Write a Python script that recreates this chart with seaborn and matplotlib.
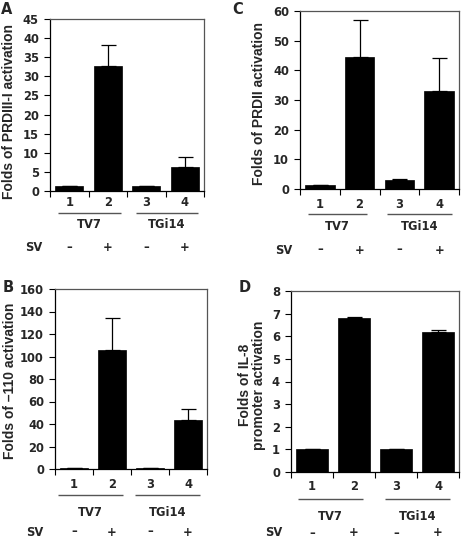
import numpy as np
import pandas as pd
import matplotlib
matplotlib.use("Agg")
import matplotlib.pyplot as plt
import matplotlib.transforms as mtrans
import seaborn as sns

sns.set_theme(style="white")
plt.rcParams['font.family'] = ['DejaVu Sans']
plt.rcParams['font.weight'] = 'bold'

lanes = ["1", "2", "3", "4"]
groups = ["TV7", "TGi14"]
sv_signs = ["\u2013", "+", "\u2013", "+"]

a_vals = [1.2, 32.8, 1.2, 6.3]
a_err = [0.0, 5.5, 0.0, 2.7]
c_vals = [1.2, 44.6, 3.0, 33.1]
c_err = [0.0, 12.2, 0.3, 11.0]
b_vals = [1.0, 105.5, 1.0, 44.0]
b_err = [0.0, 28.5, 0.0, 9.5]
d_vals = [1.0, 6.82, 1.0, 6.2]
d_err = [0.0, 0.04, 0.0, 0.08]

W, H = 462, 540

def rect(l, r, t, b):
    return [l / W, 1 - b / H, (r - l) / W, (b - t) / H]

panels = [
    dict(letter="A", lpos=(7, 9), vals=a_vals, err=a_err,
         ylabel="Folds of PRDIII-I activation", ymax=45, step=5,
         rect=rect(50, 204, 19, 191), ylx=-0.266, yly=0.465,
         offs=(12, 22, 34, 57), lines=[(-0.3, 1.35), (1.73, 3.35)], svx=-0.92),
    dict(letter="C", lpos=(238, 10), vals=c_vals, err=c_err,
         ylabel="Folds of PRDII activation", ymax=60, step=10,
         rect=rect(300, 459, 11, 189), ylx=-0.255, yly=0.483,
         offs=(16, 25, 38, 61), lines=[(-0.3, 1.19), (1.69, 3.32)], svx=-0.9),
    dict(letter="B", lpos=(8, 288), vals=b_vals, err=b_err,
         ylabel="Folds of \u2013110 activation", ymax=160, step=20,
         rect=rect(55, 207, 289, 469), ylx=-0.296, yly=0.49,
         offs=(15, 26, 44, 63), lines=[(-0.42, 1.29), (1.6, 3.32)], svx=-1.03),
    dict(letter="D", lpos=(245, 288), vals=d_vals, err=d_err,
         ylabel="Folds of IL-8\npromoter activation", ymax=8, step=1,
         rect=rect(291, 459, 291, 472), ylx=-0.232, yly=0.48,
         offs=(15, 27, 44, 61), lines=[(-0.33, 1.21), (1.74, 3.29)], svx=-0.92),
]

fig = plt.figure(figsize=(W / 100, H / 100), dpi=100)
hfont = dict(family="DejaVu Sans", weight="bold", size=8.3)

for p in panels:
    ax = fig.add_axes(p["rect"])
    df = pd.DataFrame({"lane": lanes, "value": p["vals"]})
    sns.barplot(data=df, x="lane", y="value", color="black", saturation=1,
                width=0.74, errorbar=None, ax=ax, edgecolor="black", linewidth=0.5)
    xs = np.arange(len(lanes))
    ax.errorbar(xs, p["vals"], yerr=[np.zeros(len(lanes)), p["err"]], fmt="none",
                ecolor="black", elinewidth=0.9, capsize=5.4, capthick=0.9)
    ax.set_xlim(-0.5, 3.5)
    ax.set_ylim(0, p["ymax"])
    yt = np.arange(0, p["ymax"] + 0.001, p["step"])
    ax.set_yticks(yt)
    ax.set_yticklabels([str(int(v)) for v in yt], fontdict=hfont)
    ax.set_xticks([-0.5, 0.5, 1.5, 2.5, 3.5])
    ax.set_xticklabels([])
    ax.tick_params(axis="both", direction="out", length=4, width=0.8, color="black",
                   bottom=True, left=True, pad=4)
    ax.set_xlabel("")
    ax.set_ylabel("")
    ax.text(p["ylx"], p["yly"], p["ylabel"], transform=ax.transAxes, rotation=90,
            ha="center", va="center", family="Liberation Sans", weight="bold",
            size=10, linespacing=1.05, multialignment="center")
    for s in ["left", "bottom"]:
        ax.spines[s].set_color("black")
        ax.spines[s].set_linewidth(0.9)
    for s in ["top", "right"]:
        ax.spines[s].set_color("#555555")
        ax.spines[s].set_linewidth(0.9)

    tr = mtrans.blended_transform_factory(ax.transData, ax.transAxes)
    o_num, o_line, o_grp, o_sv = p["offs"]
    for i, lab in enumerate(lanes):
        ax.annotate(lab, xy=(i, 0), xycoords=tr, xytext=(0, -o_num), textcoords="offset pixels",
                    ha="center", va="center", fontsize=8.3, fontweight="bold",
                    annotation_clip=False)
        ax.annotate(sv_signs[i], xy=(i, 0), xycoords=tr, xytext=(0, -o_sv),
                    textcoords="offset pixels", ha="center", va="center",
                    fontsize=8.3, fontweight="bold", annotation_clip=False)
    ltr = mtrans.offset_copy(tr, fig=fig, x=0, y=-o_line, units="dots")
    for (x0, x1) in p["lines"]:
        ax.plot([x0, x1], [0, 0], transform=ltr, color="#555555", lw=1.0,
                clip_on=False, solid_capstyle="butt")
    for g, (x0, x1) in zip(groups, p["lines"]):
        ax.annotate(g, xy=((x0 + x1) / 2, 0), xycoords=tr, xytext=(0, -o_grp),
                    textcoords="offset pixels", ha="center", va="center",
                    fontsize=8.3, fontweight="bold", annotation_clip=False)
    ax.annotate("SV", xy=(p["svx"], 0), xycoords=tr, xytext=(0, -o_sv),
                textcoords="offset pixels", ha="center", va="center",
                fontsize=8.3, fontweight="bold", annotation_clip=False)
    lx, ly = p["lpos"]
    fig.text(lx / W, 1 - ly / H, p["letter"], fontsize=10.5, fontweight="bold",
             ha="center", va="center")

fig.savefig("out.png", dpi=100)
